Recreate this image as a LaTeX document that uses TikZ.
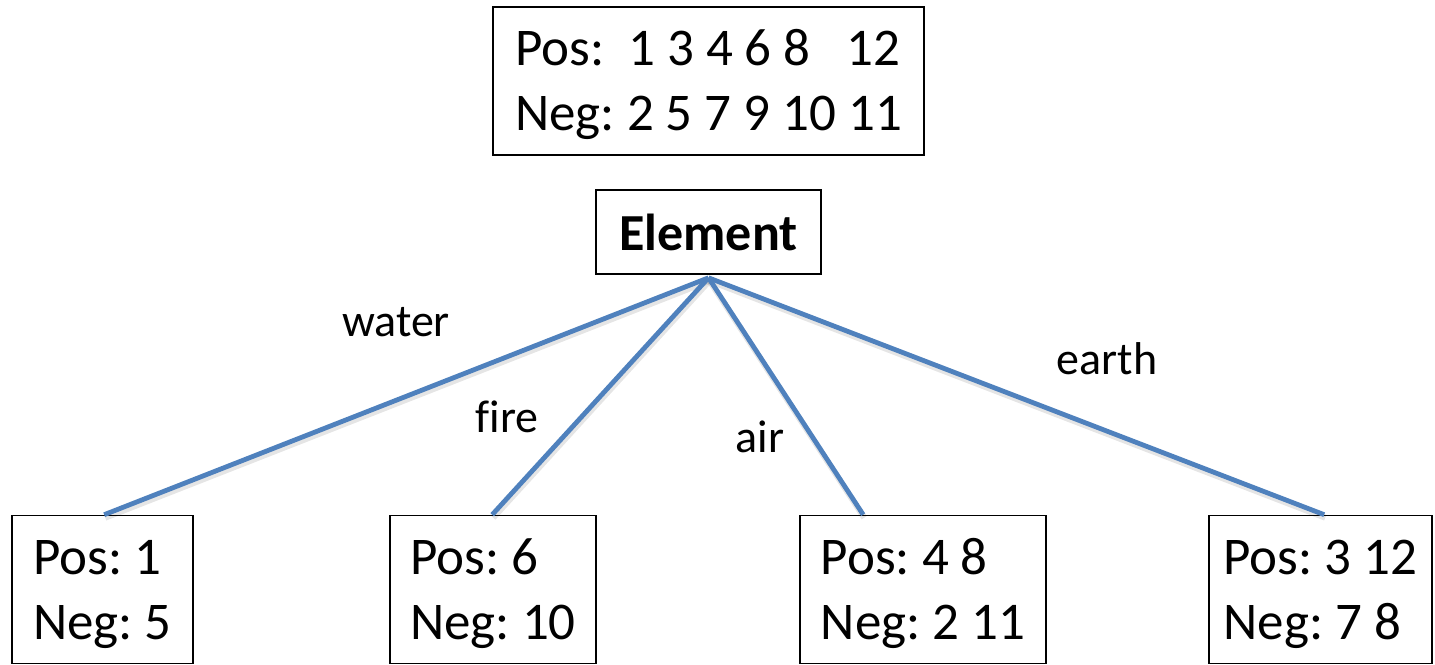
\documentclass[tikz,border=0pt]{standalone}
\usepackage{fontspec}
\setmainfont{Carlito}[Ligatures=NoCommon]
\definecolor{linkblue}{HTML}{4F81BD}
\newcommand\firststrut{\rule{0pt}{44pt}}
\frenchspacing
\tikzset{
  databox/.style={draw=black, line width=1.6pt, rectangle, inner sep=0pt,
    align=left, font=\fontsize{53}{65}\selectfont},
  attrbox/.style={draw=black, line width=1.6pt, rectangle, inner sep=0pt,
    font=\fontsize{52}{60}\selectfont\bfseries, text depth=0pt},
  branch/.style={draw=linkblue, line width=4.8pt},
  branchshadow/.style={draw=black, opacity=0.10, line width=6pt},
  edgelabel/.style={anchor=base, inner sep=0pt, font=\fontsize{46}{52}\selectfont}
}
\begin{document}
\begin{tikzpicture}[x=1pt,y=-1pt]
  \useasboundingbox (0,0) rectangle (1435,664);

  % root sample set
  \node[databox, minimum width=431pt, minimum height=148pt] (root) at (708.5,81)
    {\firststrut Pos:\ \ 1 3 4 6 8\ \ \ 12\\Neg: 2 5 7 9 10 11};

  % splitting attribute
  \node[attrbox, minimum width=225pt, minimum height=84pt] (el) at (708.5,232) {Element};

  % leaf sample sets
  \node[databox, minimum width=181pt, minimum height=148pt] (l1) at (102.5,589.5)
    {\firststrut Pos: 1\\Neg: 5};
  \node[databox, minimum width=206pt, minimum height=148pt] (l2) at (493,589.5)
    {\firststrut Pos: 6\\Neg: 10};
  \node[databox, minimum width=246pt, minimum height=148pt] (l3) at (923,589.5)
    {\firststrut Pos: 4 8\\Neg: 2 11};
  \node[databox, minimum width=223pt, minimum height=148pt] (l4) at (1320.5,589.5)
    {\firststrut Pos: 3 12\\Neg: 7 8};

  % branches with a faint shadow
  \foreach \leaf/\dx in {l1/93, l2/103, l3/64, l4/116} {
    \draw[branchshadow] ([xshift=1pt,yshift=-6pt]el.south) -- ([xshift=\dx pt+1pt,yshift=-3pt]\leaf.north west);
  }
  \draw[branch] ([yshift=-3pt]el.south) -- ([xshift=93pt]l1.north west);
  \draw[branch] ([yshift=-3pt]el.south) -- ([xshift=103pt]l2.north west);
  \draw[branch] ([yshift=-3pt]el.south) -- ([xshift=64pt]l3.north west);
  \draw[branch] ([yshift=-3pt]el.south) -- ([xshift=116pt]l4.north west);

  % branch values
  \node[edgelabel] (lw) at (396,336) {water};
  \node[edgelabel] (lf) at (507,432) {fire};
  \node[edgelabel] (la) at (760,452) {air};
  \node[edgelabel] (le) at (1107,374) {earth};
\end{tikzpicture}
\end{document}
